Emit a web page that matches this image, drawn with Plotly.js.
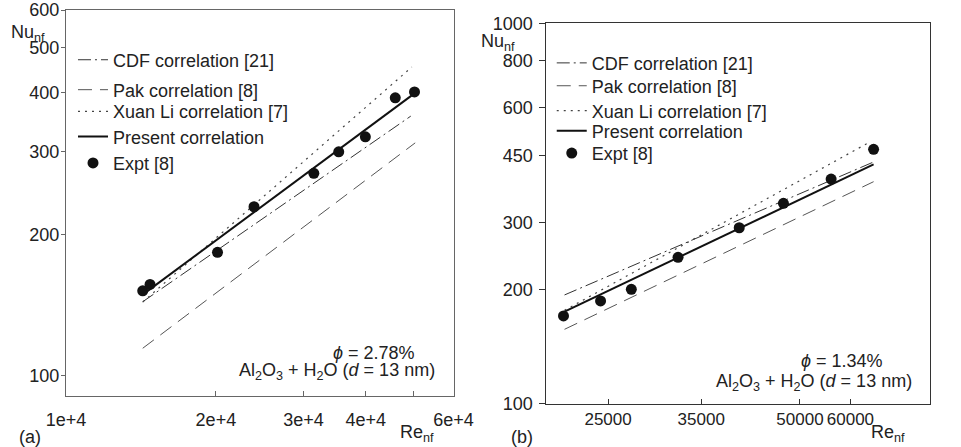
<!DOCTYPE html>
<html>
<head>
<meta charset="utf-8">
<script src="https://cdn.plot.ly/plotly-3.0.1.min.js"></script>
<style>html,body{margin:0;padding:0;background:#fff;}#chart{width:961px;height:447px;}</style>
</head>
<body>
<div id="chart"></div>
<script>
// ---------- Panel (a): phi = 2.78% ----------
const reA_expt = [14260, 14750, 20150, 23860, 31460, 35300, 39930, 45850, 50120];
const nuA_expt = [151.6, 156.4, 183.1, 228.9, 269.6, 299.6, 322.5, 390.4, 401.8];
const reA_present = [14370, 50120];
const nuA_present = [149.7, 399.0];
const reA_xuan = [14260, 49500];
const nuA_xuan = [143.5, 454.0];
const reA_cdf = [14260, 49260];
const nuA_cdf = [143.7, 356.9];
const reA_pak = [14260, 50280];
const nuA_pak = [114.4, 313.1];
const xTicksA = [10000, 20000, 30000, 40000, 50000, 60000];
const xTickTextA = ['1e+4', '2e+4', '3e+4', '4e+4', '', '6e+4'];
const yTicksA = [100, 200, 300, 400, 500, 600];

// ---------- Panel (b): phi = 1.34% ----------
const reB_expt = [21280, 24330, 27190, 32190, 40150, 47100, 55960, 65240];
const nuB_expt = [170.3, 186.5, 200.1, 242.8, 290.4, 336.7, 389.9, 466.7];
const reB_present = [21360, 65240];
const nuB_present = [174.8, 426.2];
const reB_pak = [21360, 65240];
const nuB_pak = [157.1, 383.7];
const reB_xuan = [21360, 64470];
const nuB_xuan = [176.2, 488.6];
const reB_cdf = [21360, 65240];
const nuB_cdf = [193.4, 432.3];
const xTicksB = [25000, 35000, 50000, 60000, 80000];
const yTicksB = [100, 200, 300, 450, 600, 800, 1000];

const seriesNames = ['CDF correlation [21]', 'Pak correlation [8]', 'Xuan Li correlation [7]', 'Present correlation', 'Expt [8]'];

const FONT = 'Liberation Sans, Arial, Helvetica, sans-serif';
const TXT = '#222';
const styles = {
  cdf: {color: '#333', width: 1, dash: '13px,4px,2px,4px'},
  pak: {color: '#555', width: 1, dash: '14px,8px'},
  xuan: {color: '#444', width: 1.2, dash: '2px,5px'},
  present: {color: '#111', width: 2, dash: 'solid'}
};

// each legend entry gets its own small legend box so it can sit where the reference puts it
function panel(xa, ya, legs, cdf, pak, xuan, pres, ex) {
  return [
    {x: cdf[0], y: cdf[1], name: seriesNames[0], mode: 'lines', line: styles.cdf, xaxis: xa, yaxis: ya, legend: legs[0]},
    {x: pak[0], y: pak[1], name: seriesNames[1], mode: 'lines', line: styles.pak, xaxis: xa, yaxis: ya, legend: legs[1]},
    {x: xuan[0], y: xuan[1], name: seriesNames[2], mode: 'lines', line: styles.xuan, xaxis: xa, yaxis: ya, legend: legs[2]},
    {x: pres[0], y: pres[1], name: seriesNames[3], mode: 'lines', line: styles.present, xaxis: xa, yaxis: ya, legend: legs[3]},
    {x: ex[0], y: ex[1], name: seriesNames[4], mode: 'markers', marker: {color: '#111', size: 11}, xaxis: xa, yaxis: ya, legend: legs[4]}
  ];
}

const legA = ['legend', 'legend2', 'legend3', 'legend4', 'legend5'];
const legB = ['legend6', 'legend7', 'legend8', 'legend9', 'legend10'];

const data = [].concat(
  panel('x', 'y', legA, [reA_cdf, nuA_cdf], [reA_pak, nuA_pak], [reA_xuan, nuA_xuan], [reA_present, nuA_present], [reA_expt, nuA_expt]),
  panel('x2', 'y2', legB, [reB_cdf, nuB_cdf], [reB_pak, nuB_pak], [reB_xuan, nuB_xuan], [reB_present, nuB_present], [reB_expt, nuB_expt])
);

const axisCommon = {
  type: 'log', showgrid: false, zeroline: false, showline: true, mirror: true,
  linewidth: 1, tickangle: 0,
  tickfont: {family: FONT, size: 18, color: TXT}
};

const layout = {
  width: 961, height: 447,
  margin: {l: 66, r: 31, t: 10, b: 43},
  paper_bgcolor: '#fff', plot_bgcolor: '#fff',
  font: {family: FONT, size: 18, color: TXT},
  showlegend: true,
  xaxis: Object.assign({}, axisCommon, {
    domain: [0, 0.4486], range: [4, 4.7785], anchor: 'y',
    tickmode: 'array', tickvals: xTicksA, ticktext: xTickTextA,
    ticks: 'inside', ticklen: 5, ticklabelstandoff: 7,
    linecolor: '#666', tickcolor: '#666'
  }),
  yaxis: Object.assign({}, axisCommon, {
    domain: [0.0203, 1], range: [1.9568, 2.7785], anchor: 'x',
    tickmode: 'array', tickvals: yTicksA, ticktext: yTicksA.map(String),
    ticks: 'outside', ticklen: 4, ticklabelstandoff: -2,
    linecolor: '#666', tickcolor: '#666'
  }),
  xaxis2: Object.assign({}, axisCommon, {
    domain: [0.5559, 1], range: [4.301, 4.903], anchor: 'y2',
    tickmode: 'array', tickvals: xTicksB, ticktext: xTicksB.map(String),
    ticks: 'inside', ticklen: 5,
    tickfont: {family: FONT, size: 17, color: TXT},
    linecolor: '#333', tickcolor: '#333'
  }),
  yaxis2: Object.assign({}, axisCommon, {
    domain: [0, 0.9662], range: [2, 3], anchor: 'x2',
    tickmode: 'array', tickvals: yTicksB, ticktext: yTicksB.map(String),
    ticks: 'outside', ticklen: 6, ticklabelstandoff: 3,
    linecolor: '#333', tickcolor: '#333'
  }),
  annotations: [
    {xref: 'paper', yref: 'paper', x: -0.066, y: 0.975, text: 'Nu<sub>nf</sub>', showarrow: false, xanchor: 'left', font: {family: FONT, size: 18, color: TXT}},
    {xref: 'paper', yref: 'paper', x: 0.4785, y: 0.951, text: 'Nu<sub>nf</sub>', showarrow: false, xanchor: 'left', font: {family: FONT, size: 18, color: TXT}},
    {xref: 'paper', yref: 'paper', x: 0.384, y: -0.108, text: 'Re<sub>nf</sub>', showarrow: false, xanchor: 'left', font: {family: FONT, size: 18, color: TXT}},
    {xref: 'paper', yref: 'paper', x: 0.929, y: -0.108, text: 'Re<sub>nf</sub>', showarrow: false, xanchor: 'left', font: {family: FONT, size: 18, color: TXT}},
    {xref: 'paper', yref: 'paper', x: -0.057, y: -0.115, text: '(a)', showarrow: false, xanchor: 'left', font: {family: FONT, size: 18, color: TXT}},
    {xref: 'paper', yref: 'paper', x: 0.513, y: -0.115, text: '(b)', showarrow: false, xanchor: 'left', font: {family: FONT, size: 18, color: TXT}},
    {xref: 'paper', yref: 'paper', x: 0.356, y: 0.100, text: '<i>ϕ</i> = 2.78%', showarrow: false, xanchor: 'center', font: {family: FONT, size: 18, color: TXT}},
    {xref: 'paper', yref: 'paper', x: 0.429, y: 0.047, text: 'Al<sub>2</sub>O<sub>3</sub> + H<sub>2</sub>O (<i>d</i> = 13 nm)', showarrow: false, xanchor: 'right', font: {family: FONT, size: 18, color: TXT}},
    {xref: 'paper', yref: 'paper', x: 0.898, y: 0.079, text: '<i>ϕ</i> = 1.34%', showarrow: false, xanchor: 'center', font: {family: FONT, size: 18, color: TXT}},
    {xref: 'paper', yref: 'paper', x: 0.981, y: 0.021, text: 'Al<sub>2</sub>O<sub>3</sub> + H<sub>2</sub>O (<i>d</i> = 13 nm)', showarrow: false, xanchor: 'right', font: {family: FONT, size: 18, color: TXT}}
  ]
};

// legend box positions (paper coords)
const legXA = 0.0081, legXB = 0.5622;
const legYA = [0.873, 0.797, 0.742, 0.678, 0.611];
const legYB = [0.865, 0.807, 0.744, 0.693, 0.636];
function legBox(x, y) {
  return {
    x: x, y: y, xanchor: 'left', yanchor: 'middle',
    font: {family: FONT, size: 18, color: TXT},
    bgcolor: 'rgba(0,0,0,0)', borderwidth: 0
  };
}
legA.forEach((k, i) => { layout[k] = legBox(legXA, legYA[i]); });
legB.forEach((k, i) => { layout[k] = legBox(legXB, legYB[i]); });

Plotly.newPlot('chart', data, layout, {staticPlot: true, displayModeBar: false});
</script>
</body>
</html>
